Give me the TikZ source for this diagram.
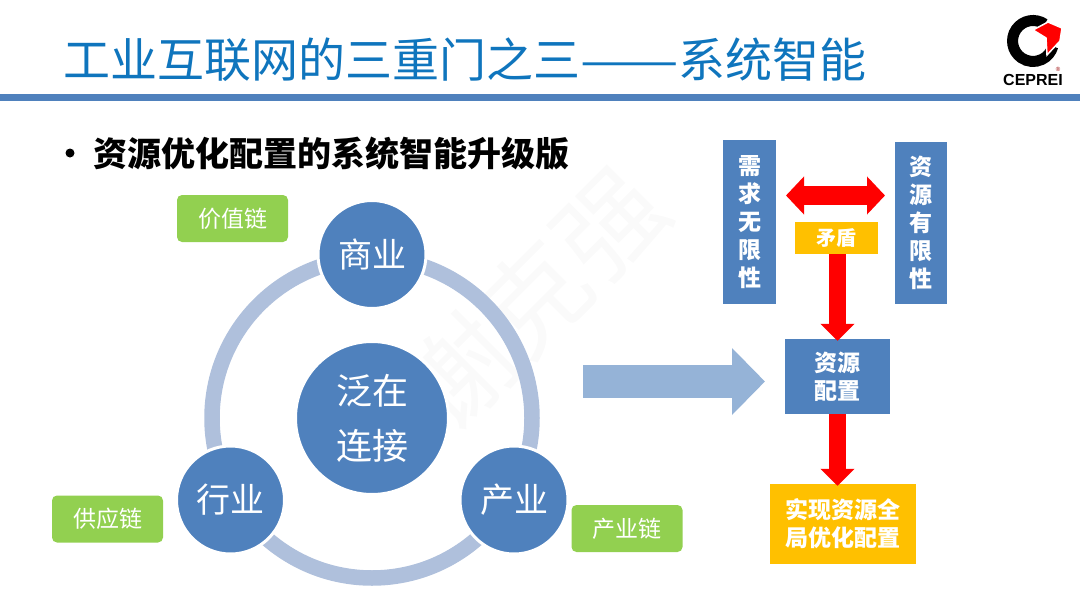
\documentclass[tikz,border=0pt]{standalone}
\usepackage{fontspec}
\setmainfont{Noto Sans CJK SC}
\setsansfont{Liberation Sans}
\usetikzlibrary{arrows.meta}
\definecolor{barblue}{HTML}{4F81BD}
\definecolor{titleblue}{HTML}{0F75BD}
\definecolor{ringblue}{HTML}{AFC0DC}
\definecolor{arrowblue}{HTML}{95B3D7}
\definecolor{chaingreen}{HTML}{92D050}
\definecolor{boxyellow}{HTML}{FFC000}
\definecolor{markgrey}{HTML}{FAFAFA}
\tikzset{
  hub/.style={circle, fill=barblue, draw=white, line width=3pt, inner sep=0pt, text=white},
  chain/.style={rounded corners=5pt, fill=chaingreen, inner sep=0pt, text=white, font=\fontsize{23}{23}\selectfont, minimum width=111pt, minimum height=47pt},
  bluebox/.style={fill=barblue, inner sep=0pt, text=white, align=center, font=\fontsize{23}{28}\selectfont\bfseries},
  yellowbox/.style={fill=boxyellow, inner sep=0pt, text=white, align=center, font=\fontsize{23}{28}\selectfont\bfseries},
  redarrow/.style={red, line width=17pt, shorten >=-2pt, -{Triangle[length=17pt,width=33pt]}}
}
\begin{document}
\begin{tikzpicture}[x=1pt,y=-1pt]
\useasboundingbox (0,0) rectangle (1080,608);
% watermark
\node[text=markgrey, rotate=45, font=\fontsize{105}{105}\selectfont] (mark) at (535,298) {谢克强};
% header
\node[text=titleblue, anchor=west, inner sep=0pt, font=\fontsize{47}{47}\selectfont] (title) at (63,60) {工业互联网的三重门之三\scalebox{1.25}[1]{——}系统智能};
\fill[barblue] (0,94) rectangle (1080,101);
\fill (70,153) circle (4.5);
\node[anchor=west, inner sep=0pt, font=\fontsize{34}{34}\selectfont\bfseries] (sub) at (93,154) {资源优化配置的系统智能升级版};
% logo
\draw[line width=11pt] (1044.8,24.2) arc (-55:-345:20.5);
\fill[red, draw=white, line width=1.5pt] (1033,30) -- (1048,22) -- (1062,28) -- (1060,41) -- (1047,55) -- (1046,38) -- cycle;
\node[font=\sffamily\bfseries\fontsize{16}{16}\selectfont, inner sep=0pt] (cep) at (1033,80) {CEPREI};
\node[text=red!60!black, font=\sffamily\fontsize{6}{6}\selectfont, inner sep=0pt] (reg) at (1058,69) {®};
% ring
\draw[ringblue, line width=15.5pt] (372,418) circle (160);
\node[hub, minimum size=108pt, font=\fontsize{34}{34}\selectfont] (biz) at (372,254.5) {商业};
\node[hub, minimum size=108pt, font=\fontsize{34}{34}\selectfont] (trade) at (230.5,500) {行业};
\node[hub, minimum size=108pt, font=\fontsize{34}{34}\selectfont] (ind) at (514,500) {产业};
\node[hub, minimum size=153pt, align=center, font=\fontsize{36}{55}\selectfont] (hubc) at (372,418) {泛在\\连接};
\node[chain] (value) at (232.5,218.5) {价值链};
\node[chain] (supply) at (107.5,519) {供应链};
\node[chain] (indc) at (627,528.5) {产业链};
% right side
\node[bluebox, minimum width=53pt, minimum height=164pt] (need) at (749.5,222) {需\\求\\无\\限\\性};
\node[bluebox, minimum width=52pt, minimum height=162pt] (res) at (921,223) {资\\源\\有\\限\\性};
\node[yellowbox, minimum width=83pt, minimum height=32pt, font=\fontsize{20}{20}\selectfont\bfseries] (conf) at (836.5,238) {矛盾};
\node[bluebox, minimum width=105pt, minimum height=75pt] (alloc) at (837.5,376.5) {资源\\配置};
\node[yellowbox, minimum width=146pt, minimum height=80pt] (goal) at (843,524) {实现资源全\\局优化配置};
\coordinate (bigL) at (583,381.5);
\coordinate (bigR) at (765,381.5);
\coordinate (duoL) at (786,195.5);
\coordinate (duoR) at (885,195.5);
\draw[arrowblue, line width=33pt, -{Triangle[length=33pt,width=65pt]}] (bigL) -- (bigR);
\draw[red, line width=19pt, {Triangle[length=18pt,width=37pt]}-{Triangle[length=18pt,width=37pt]}] (duoL) -- (duoR);
\draw[redarrow] (conf.south -| alloc.north) -- (alloc.north);
\draw[redarrow] (alloc.south) -- (alloc.south |- goal.north);
\end{tikzpicture}
\end{document}
